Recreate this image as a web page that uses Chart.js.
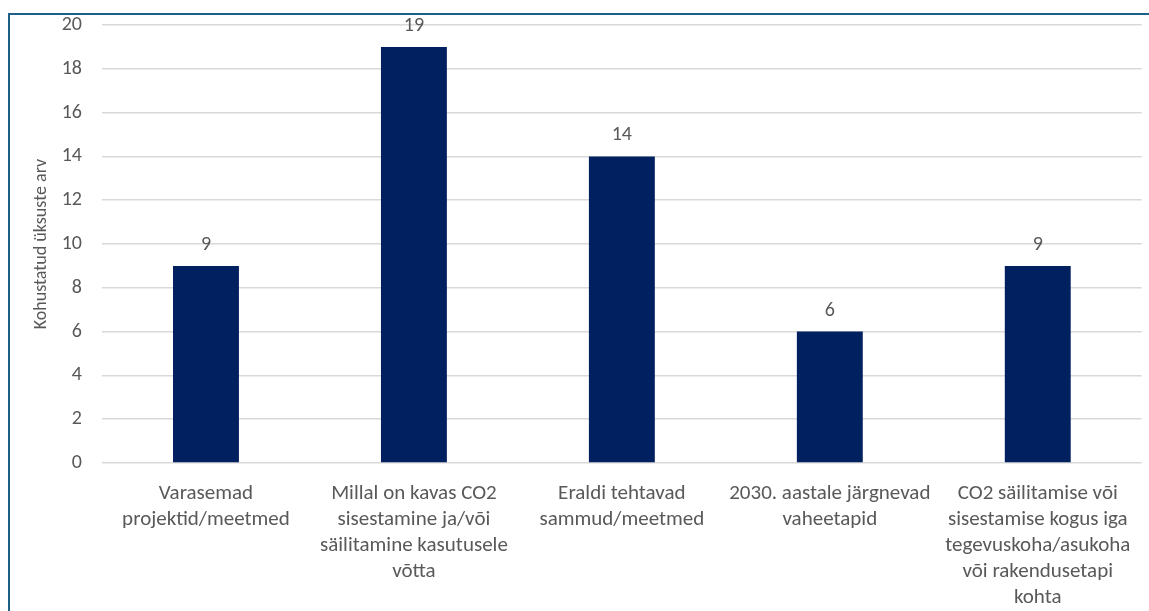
<!DOCTYPE html>
<html>
<head>
<meta charset="utf-8">
<script src="https://cdn.jsdelivr.net/npm/chart.js@4"></script>
<style>
  html, body { margin: 0; padding: 0; background: #fff; }
  canvas { display: block; }
</style>
</head>
<body>
<canvas id="chart" width="1149" height="611"></canvas>
<script>
// chart data
const categories = [
  ['Varasemad', 'projektid/meetmed'],
  ['Millal on kavas CO2', 'sisestamine ja/või', 'säilitamine kasutusele', 'võtta'],
  ['Eraldi tehtavad', 'sammud/meetmed'],
  ['2030. aastale järgnevad', 'vaheetapid'],
  ['CO2 säilitamise või', 'sisestamise kogus iga', 'tegevuskoha/asukoha', 'või rakendusetapi', 'kohta']
];
const counts = [9, 19, 14, 6, 9];
const yTitle = 'Kohustatud üksuste arv';
const yMin = 0;
const yMax = 20;
const yStep = 2;

const textColor = '#595959';
const fontFamily = "Carlito, 'Noto Sans', sans-serif";

// frame lines at left and top
const framePlugin = {
  id: 'frame',
  beforeDraw(chart) {
    const ctx = chart.ctx;
    ctx.save();
    ctx.strokeStyle = '#1d6087';
    ctx.lineWidth = 2;
    ctx.beginPath();
    ctx.moveTo(9, chart.height);
    ctx.lineTo(9, 14);
    ctx.lineTo(chart.width, 14);
    ctx.stroke();
    ctx.restore();
  }
};

// value labels above bars
const valueLabels = {
  id: 'valueLabels',
  afterDatasetsDraw(chart) {
    const ctx = chart.ctx;
    const meta = chart.getDatasetMeta(0);
    ctx.save();
    ctx.fillStyle = textColor;
    ctx.font = '20px ' + fontFamily;
    ctx.textAlign = 'center';
    ctx.textBaseline = 'middle';
    meta.data.forEach((bar, i) => {
      ctx.fillText(String(counts[i]), bar.x, bar.y - 21);
    });
    ctx.restore();
  }
};

new Chart(document.getElementById('chart'), {
  type: 'bar',
  data: {
    labels: categories,
    datasets: [{
      data: counts,
      backgroundColor: '#002060',
      categoryPercentage: 1,
      barPercentage: 0.317
    }]
  },
  options: {
    responsive: false,
    animation: false,
    layout: { padding: { top: 25, right: 7, left: 0, bottom: 0 } },
    plugins: {
      legend: { display: false },
      tooltip: { enabled: false }
    },
    scales: {
      x: {
        grid: { display: false, drawTicks: false },
        border: { display: false },
        ticks: {
          color: textColor,
          font: { family: fontFamily, size: 21, lineHeight: 1.24 },
          maxRotation: 0,
          autoSkip: false,
          padding: 18
        },
        afterFit(scale) { scale.height = 148; }
      },
      y: {
        min: yMin,
        max: yMax,
        grid: { color: '#d9d9d9', lineWidth: 1.5, drawTicks: false },
        border: { display: false },
        ticks: {
          stepSize: yStep,
          color: textColor,
          font: { family: fontFamily, size: 20 },
          padding: 20
        },
        title: {
          display: true,
          text: yTitle,
          color: textColor,
          font: { family: fontFamily, size: 18 },
          padding: { top: 31, bottom: 0 }
        },
        afterFit(scale) {
          scale.width = 102;
          scale.paddingTop = 0;
          scale.paddingBottom = 0;
        }
      }
    }
  },
  plugins: [framePlugin, valueLabels]
});
</script>
</body>
</html>
